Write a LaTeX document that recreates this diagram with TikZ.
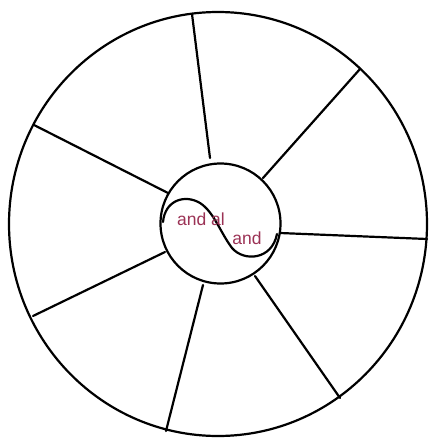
\documentclass[tikz,border=0pt]{standalone}
\usepackage{fontspec}
\setmainfont{Liberation Sans}
\definecolor{lbl}{RGB}{155,50,85}
\begin{document}
\begin{tikzpicture}[x=1pt,y=-1pt,
  ln/.style={line width=2.2pt,black,line cap=round},
  lab/.style={text=lbl,font=\fontsize{17.5}{17.5}\selectfont,inner sep=0pt}]
\useasboundingbox (0,0) rectangle (429,439);
\draw[ln] (218,224) ellipse (209 and 212);
\draw[ln] (220.5,223.5) circle (60);
% spokes
\draw[ln] (210,158) -- (192,14);
\draw[ln] (263,178) -- (360,69);
\draw[ln] (280,233) -- (427,239);
\draw[ln] (255,276) -- (340,398);
\draw[ln] (203,285) -- (166,431);
\draw[ln] (165,252) -- (33,316);
\draw[ln] (168,193) -- (34,125);
% S-curve
\draw[ln] (163,222) .. controls (165,200) and (185,194) .. (200,203)
  .. controls (214,212) and (220,232) .. (232,248)
  .. controls (244,262) and (272,260) .. (277,234);
\node[lab] (a) at (201,219) {and al};
\node[lab] (b) at (247,238) {and};
\end{tikzpicture}
\end{document}
